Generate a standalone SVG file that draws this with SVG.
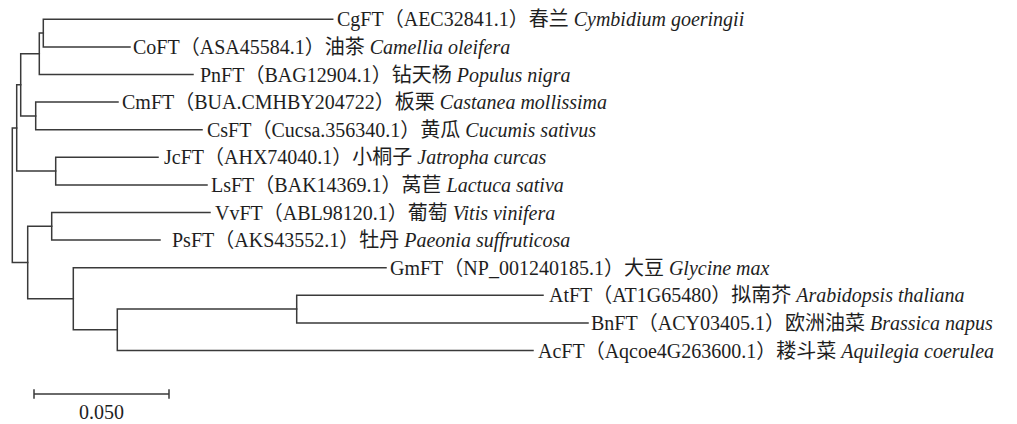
<svg xmlns="http://www.w3.org/2000/svg" width="1017" height="424" viewBox="0 0 1017 424">
  <style>
    .br { fill: none; stroke: #3a3a3a; stroke-width: 1.5; stroke-linecap: square; }
    .lb { font-family: "Liberation Serif", "Noto Sans CJK SC", serif; font-size: 20px; fill: #1e1e1e; }
    .sp { font-style: italic; }
    .cn { font-family: "Noto Sans CJK SC", "Liberation Serif", sans-serif; }
  </style>
  <rect width="1017" height="424" fill="#ffffff"/>

  <!-- branches of the tree -->
  <g id="connectors" class="br">
    <!-- root -->
    <path d="M12.3,128 V262.5 M12.3,128 H16.7 M12.3,262.5 H27.7"/>
    <!-- upper clade -->
    <path d="M16.7,84.85 V171.1 M16.7,84.85 H20.7 M16.7,171.1 H55.7"/>
    <path d="M20.7,53.8 V115.9 M20.7,53.8 H39.3 M20.7,115.9 H35.7"/>
    <path d="M39.3,33.1 V74.5 M39.3,33.1 H43.3 M39.3,74.5 H193"/>
    <path d="M43.3,19.3 V46.9 M43.3,19.3 H332.7 M43.3,46.9 H130"/>
    <path d="M35.7,102.1 V129.7 M35.7,102.1 H118 M35.7,129.7 H202"/>
    <path d="M55.7,157.3 V184.9 M55.7,157.3 H158 M55.7,184.9 H207"/>
    <!-- lower clade -->
    <path d="M27.7,226.3 V298.75 M27.7,226.3 H51.7 M27.7,298.75 H73.3"/>
    <path d="M51.7,212.5 V240.1 M51.7,212.5 H210 M51.7,240.1 H160"/>
    <path d="M73.3,267.7 V329.8 M73.3,267.7 H386 M73.3,329.8 H117.3"/>
    <path d="M117.3,309.1 V350.5 M117.3,309.1 H296.7 M117.3,350.5 H533"/>
    <path d="M296.7,295.3 V322.9 M296.7,295.3 H543 M296.7,322.9 H588"/>
  </g>

  <!-- leaf labels -->
  <g id="CgFT"><text class="lb" x="337" y="26.3">CgFT<tspan class="cn">（</tspan>AEC32841.1<tspan class="cn">）春兰</tspan> <tspan class="sp">Cymbidium goeringii</tspan></text></g>
  <g id="CoFT"><text class="lb" x="133" y="53.9">CoFT<tspan class="cn">（</tspan>ASA45584.1<tspan class="cn">）油茶</tspan> <tspan class="sp">Camellia oleifera</tspan></text></g>
  <g id="PnFT"><text class="lb" x="200" y="81.5">PnFT<tspan class="cn">（</tspan>BAG12904.1<tspan class="cn">）钻天杨</tspan> <tspan class="sp">Populus nigra</tspan></text></g>
  <g id="CmFT"><text class="lb" x="122" y="109.1">CmFT<tspan class="cn">（</tspan>BUA.CMHBY204722<tspan class="cn">）板栗</tspan> <tspan class="sp">Castanea mollissima</tspan></text></g>
  <g id="CsFT"><text class="lb" x="207" y="136.7">CsFT<tspan class="cn">（</tspan>Cucsa.356340.1<tspan class="cn">）黄瓜</tspan> <tspan class="sp">Cucumis sativus</tspan></text></g>
  <g id="JcFT"><text class="lb" x="164" y="164.3">JcFT<tspan class="cn">（</tspan>AHX74040.1<tspan class="cn">）小桐子</tspan> <tspan class="sp">Jatropha curcas</tspan></text></g>
  <g id="LsFT"><text class="lb" x="211" y="191.9">LsFT<tspan class="cn">（</tspan>BAK14369.1<tspan class="cn">）莴苣</tspan> <tspan class="sp">Lactuca sativa</tspan></text></g>
  <g id="VvFT"><text class="lb" x="215" y="219.5">VvFT<tspan class="cn">（</tspan>ABL98120.1<tspan class="cn">）葡萄</tspan> <tspan class="sp">Vitis vinifera</tspan></text></g>
  <g id="PsFT"><text class="lb" x="172" y="247.1">PsFT<tspan class="cn">（</tspan>AKS43552.1<tspan class="cn">）牡丹</tspan> <tspan class="sp">Paeonia suffruticosa</tspan></text></g>
  <g id="GmFT"><text class="lb" x="390" y="274.7">GmFT<tspan class="cn">（</tspan>NP_001240185.1<tspan class="cn">）大豆</tspan> <tspan class="sp">Glycine max</tspan></text></g>
  <g id="AtFT"><text class="lb" x="549" y="302.3">AtFT<tspan class="cn">（</tspan>AT1G65480<tspan class="cn">）拟南芥</tspan> <tspan class="sp">Arabidopsis thaliana</tspan></text></g>
  <g id="BnFT"><text class="lb" x="591" y="329.9">BnFT<tspan class="cn">（</tspan>ACY03405.1<tspan class="cn">）欧洲油菜</tspan> <tspan class="sp">Brassica napus</tspan></text></g>
  <g id="AcFT"><text class="lb" x="538" y="357.5">AcFT<tspan class="cn">（</tspan>Aqcoe4G263600.1<tspan class="cn">）耧斗菜</tspan> <tspan class="sp">Aquilegia coerulea</tspan></text></g>

  <!-- scale bar -->
  <g id="scale">
    <path class="br" d="M34,394 H169 M34,390 V398 M169,390 V398"/>
    <text class="lb" x="101.5" y="419" text-anchor="middle">0.050</text>
  </g>
</svg>
